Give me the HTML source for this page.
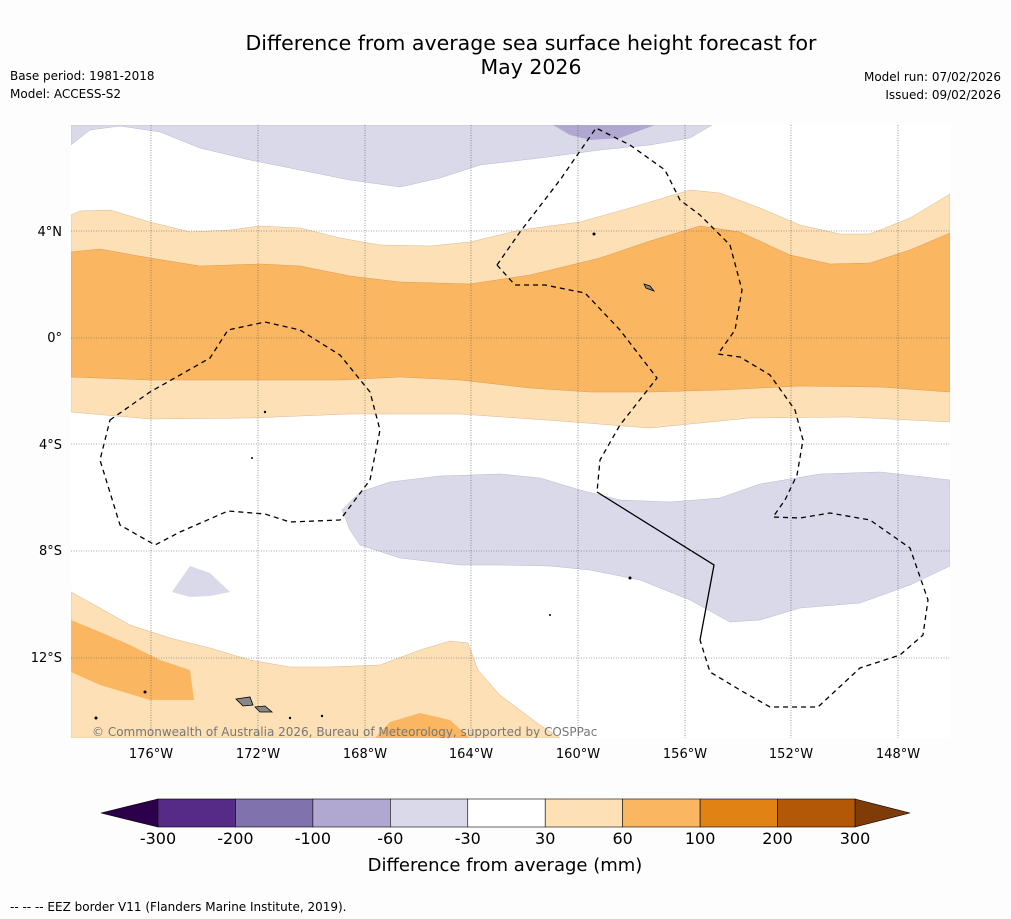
<!DOCTYPE html>
<html><head><meta charset="utf-8"><style>
body{margin:0;background:#fff;font-family:"DejaVu Sans","Liberation Sans",sans-serif}
svg{display:block;font-family:"DejaVu Sans","Liberation Sans",sans-serif}
</style></head><body>
<svg width="1011" height="919" viewBox="0 0 1011 919">
<rect width="1011" height="919" fill="#fdfdfd"/>
<text x="531" y="50" font-size="20.5" text-anchor="middle">Difference from average sea surface height forecast for</text>
<text x="531" y="74" font-size="20.5" text-anchor="middle">May 2026</text>
<text x="10" y="80" font-size="12">Base period: 1981-2018</text>
<text x="10" y="98" font-size="12">Model: ACCESS-S2</text>
<text x="1001" y="81" font-size="12" text-anchor="end">Model run: 07/02/2026</text>
<text x="1001" y="99" font-size="12" text-anchor="end">Issued: 09/02/2026</text>

<g>
<clipPath id="mc"><rect x="71" y="125" width="879" height="613"/></clipPath>
<g clip-path="url(#mc)">
<rect x="71" y="125" width="879" height="613" fill="#fff"/>
<path fill="#d9d9ea" stroke="#b9b9cc" stroke-width="0.5" d="M71,125 L71,145 L90,130 L120,126 L160,132 L200,148 L250,160 L300,170 L350,180 L400,187 L440,178 L480,165 L540,158 L600,150 L650,145 L690,138 L712,125 Z"/>
<path fill="#b0a8d0" d="M553,125 L570,135 L590,140 L620,138 L655,125 Z"/>
<path fill="#fde0b6" stroke="#d8b890" stroke-width="0.5" d="M71,215 L80,211 L110,210 L150,222 L190,232 L230,230 L260,226 L300,228 L340,238 L380,245 L430,246 L470,242 L520,230 L580,222 L630,208 L690,190 L720,193 L760,208 L800,225 L840,234 L870,234 L910,218 L950,194 L950,422 L850,417 L750,418 L650,428 L560,421 L460,414 L350,414 L250,418 L150,419 L71,412 Z"/>
<path fill="#fbb661" stroke="#d89a50" stroke-width="0.5" d="M71,252 L100,249 L150,258 L200,266 L260,264 L300,266 L350,276 L400,282 L470,284 L530,275 L600,258 L650,241 L700,226 L740,232 L790,255 L830,264 L870,263 L910,250 L950,233 L950,392 L880,387 L800,386 L720,390 L650,392 L590,392 L530,388 L460,380 L400,377 L340,380 L250,380 L150,380 L71,377 Z"/>
<path fill="#d9d9ea" stroke="#b9b9cc" stroke-width="0.5" d="M342,510 L360,492 L390,482 L440,476 L500,474 L540,478 L580,490 L620,500 L670,502 L720,498 L760,484 L820,474 L880,472 L950,480 L950,566 L910,585 L860,603 L800,608 L760,620 L730,622 L690,600 L640,580 L590,570 L550,566 L500,565 L460,565 L400,558 L360,545 L350,530 Z"/>
<path fill="#d9d9ea" d="M172,592 L190,566 L210,573 L230,592 L210,596 L190,597 Z"/>
<path fill="#fde0b6" stroke="#d8b890" stroke-width="0.5" d="M71,592 L100,608 L130,625 L170,638 L210,648 L250,660 L290,667 L330,667 L380,665 L420,650 L450,641 L468,643 L478,670 L500,695 L540,725 L560,738 L71,738 Z"/>
<path fill="#fbb661" d="M71,620 L100,632 L130,645 L160,660 L190,670 L194,700 L150,700 L100,685 L71,672 Z"/>
<path fill="#fbb661" d="M375,738 L390,722 L420,713 L450,720 L470,738 Z"/>
<g fill="none" stroke="#000" stroke-width="1.3" stroke-dasharray="5,4">
<path d="M110,420 L150,392 L210,358 L228,330 L265,322 L300,330 L340,355 L370,392 L380,430 L370,480 L340,520 L290,522 L265,514 L228,511 L180,532 L155,545 L120,525 L100,460 Z"/>
<path d="M497,265 L520,232 L560,180 L596,128 L630,145 L665,170 L680,200 L700,215 L730,245 L742,290 L735,330 L718,354 L740,357 L770,375 L795,410 L803,440 L797,475 L785,500 L773,517 L800,518 L830,513 L870,520 L910,548 L928,600 L923,635 L900,655 L860,668 L818,707 L770,707 L740,690 L710,672 L700,640"/>
<path d="M497,265 L515,285 L545,285 L585,293 L620,330 L657,378 L620,425 L600,460 L597,492"/>
</g>
<path d="M597,492 L714,565 L700,640" fill="none" stroke="#000" stroke-width="1.3"/>
<g fill="#888" stroke="#000" stroke-width="0.8">
<path d="M236,699 L250,697 L253,705 L243,706 Z"/><path d="M255,707 L265,706 L272,712 L260,712 Z"/>
<path d="M644,284 L650,286 L654,291 L646,288 Z"/>
</g>
<g fill="#000"><circle cx="145" cy="692" r="1.5"/><circle cx="265" cy="412" r="1.2"/><circle cx="594" cy="234" r="1.5"/><circle cx="630" cy="578" r="1.5"/><circle cx="96" cy="718" r="1.5"/><circle cx="290" cy="718" r="1.2"/><circle cx="322" cy="716" r="1.2"/><circle cx="550" cy="615" r="1"/><circle cx="252" cy="458" r="1"/></g>
<g stroke="#555" stroke-width="0.6" stroke-dasharray="1,1.5">
<line x1="151" y1="125" x2="151" y2="738"/><line x1="258" y1="125" x2="258" y2="738"/><line x1="365" y1="125" x2="365" y2="738"/><line x1="471" y1="125" x2="471" y2="738"/><line x1="578" y1="125" x2="578" y2="738"/><line x1="685" y1="125" x2="685" y2="738"/><line x1="791" y1="125" x2="791" y2="738"/><line x1="898" y1="125" x2="898" y2="738"/>
<line x1="71" y1="231" x2="950" y2="231"/><line x1="71" y1="338" x2="950" y2="338"/><line x1="71" y1="444" x2="950" y2="444"/><line x1="71" y1="551" x2="950" y2="551"/><line x1="71" y1="658" x2="950" y2="658"/>
</g>
<text x="92" y="736" font-size="12" fill="#777">© Commonwealth of Australia 2026, Bureau of Meteorology, supported by COSPPac</text>
</g>
</g>
<g font-size="13">
<g text-anchor="middle"><text x="151" y="758">176°W</text><text x="258" y="758">172°W</text><text x="365" y="758">168°W</text><text x="471" y="758">164°W</text><text x="578" y="758">160°W</text><text x="685" y="758">156°W</text><text x="791" y="758">152°W</text><text x="898" y="758">148°W</text></g>
<g text-anchor="end"><text x="62" y="236">4°N</text><text x="62" y="342">0°</text><text x="62" y="449">4°S</text><text x="62" y="555">8°S</text><text x="62" y="662">12°S</text></g>
</g>
<g id="cbar"></g>
<text x="505" y="871" font-size="18" text-anchor="middle">Difference from average (mm)</text>
<text x="10" y="911" font-size="12">--  --  -- EEZ border V11 (Flanders Marine Institute, 2019).</text>
</svg>
<script>
const levels=[-300,-200,-100,-60,-30,30,60,100,200,300];
const colors=['#562a87','#8072ad','#b0a8d0','#d9d9ea','#ffffff','#fde0b6','#fbb661','#e08214','#b35806'];
const ns='http://www.w3.org/2000/svg';
const g=document.getElementById('cbar');
const x0=158,x1=855,y0=799,h=28;
const bx=i=>x0+(x1-x0)*i/(levels.length-1);
function mk(t,a){const e=document.createElementNS(ns,t);for(const k in a)e.setAttribute(k,a[k]);g.appendChild(e);return e;}
let lt=mk('polygon',{points:`${x0},${y0} ${x0},${y0+h} 101,${y0+h/2}`,fill:'#2d004b',stroke:'#000','stroke-width':0.6});


let rt=mk('polygon',{points:`${x1},${y0} ${x1},${y0+h} 910,${y0+h/2}`,fill:'#7f3b08',stroke:'#000','stroke-width':0.6});


colors.forEach((c,i)=>{
 const r=mk('rect',{x:bx(i),y:y0,width:bx(i+1)-bx(i),height:h,fill:c,stroke:'#000','stroke-width':0.6});
 
 
});
levels.forEach((v,i)=>{
 const t=mk('text',{x:bx(i),y:844,'font-size':16,'text-anchor':'middle'});
 t.textContent=v;
 
 
});
</script>
</body></html>
